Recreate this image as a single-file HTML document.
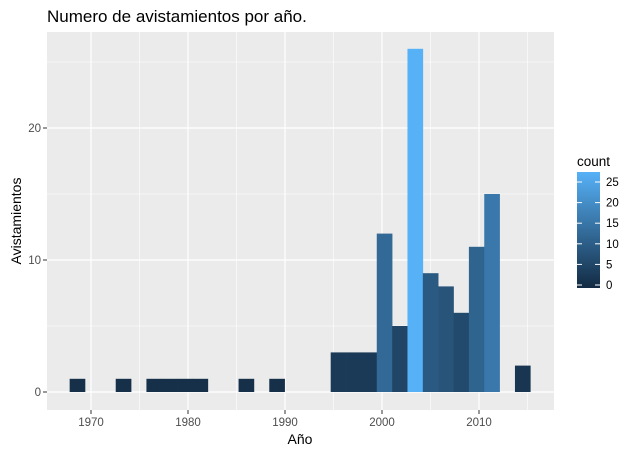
<!DOCTYPE html>
<html><head><meta charset="utf-8"><style>
body{margin:0;background:#fff;}
svg text{font-family:"Liberation Sans",Arial,sans-serif;}
</style></head><body>
<svg id="chart" width="635" height="452" xmlns="http://www.w3.org/2000/svg">
<text x="47" y="22" font-size="17" fill="#000">Numero de avistamientos por año.</text>
<rect x="47" y="32" width="507" height="378" fill="#EBEBEB"/>
<g id="grid"></g>
<g id="bars"></g>
<g id="axes"></g>
<text x="300" y="444" font-size="14" text-anchor="middle" fill="#000">Año</text>
<text transform="translate(21,221) rotate(-90)" font-size="14" text-anchor="middle" fill="#000">Avistamientos</text>
<g id="legend"></g>
</svg>
<script>
const binStart = 1967.8;
const binWidth = 1.583;
const counts = [1,0,0,1,0,1,1,1,1,0,0,1,0,1,0,0,0,3,3,3,12,5,26,9,8,6,11,15,0,2];
const xTicks = [1970,1980,1990,2000,2010];
const xMinor = [1965,1975,1985,1995,2005,2015];
const yTicks = [0,10,20];
const yMinor = [5,15,25];
const legendTicks = [0,5,10,15,20,25];

const NS="http://www.w3.org/2000/svg";
const L=47,R=554,T=32,B=410;
const xs = y => 91 + (y-1970)*9.7;
const ys = v => 392 - v*13.2;
const maxC = Math.max(...counts);
function col(v){const t=v/maxC;const a=[0x13,0x2B,0x43],b=[0x56,0xB1,0xF7];
 return 'rgb('+a.map((c,i)=>Math.round(c+(b[i]-c)*t)).join(',')+')';}
function mk(tag,attrs,parent){const e=document.createElementNS(NS,tag);for(const k in attrs)e.setAttribute(k,attrs[k]);parent.appendChild(e);return e;}
const grid=document.getElementById('grid'),bars=document.getElementById('bars'),axes=document.getElementById('axes'),lg=document.getElementById('legend');
xMinor.forEach(v=>{const x=xs(v);if(x<L||x>R)return;const e=mk('line',{x1:x,x2:x,y1:T,y2:B,stroke:'#fff','stroke-width':0.6},grid);

});
yMinor.forEach(v=>{const e=mk('line',{x1:L,x2:R,y1:ys(v),y2:ys(v),stroke:'#fff','stroke-width':0.6},grid);

});
xTicks.forEach(v=>{const x=xs(v);const e=mk('line',{x1:x,x2:x,y1:T,y2:B,stroke:'#fff','stroke-width':1.2},grid);


const t=mk('line',{x1:x,x2:x,y1:B,y2:B+4,stroke:'#333','stroke-width':1},axes);


const l=mk('text',{x:x,y:B+16,'font-size':11.5,'text-anchor':'middle',fill:'#4D4D4D'},axes);l.textContent=v;

});
yTicks.forEach(v=>{const y=ys(v);const e=mk('line',{x1:L,x2:R,y1:y,y2:y,stroke:'#fff','stroke-width':1.2},grid);


const t=mk('line',{x1:L-4,x2:L,y1:y,y2:y,stroke:'#333','stroke-width':1},axes);


const l=mk('text',{x:L-6,y:y+4,'font-size':11.5,'text-anchor':'end',fill:'#4D4D4D'},axes);l.textContent=v;

});
counts.forEach((c,i)=>{if(c<=0)return;const x0=xs(binStart+i*binWidth),x1=xs(binStart+(i+1)*binWidth);
const e=mk('rect',{x:x0,y:ys(c),width:x1-x0+0.3,height:ys(0)-ys(c),fill:col(c)},bars);

});
// legend
const lt=mk('text',{x:577,y:166,'font-size':13.5,fill:'#000'},lg);lt.textContent='count';


const defs=mk('defs',{},lg);const gr=mk('linearGradient',{id:'lgrad',x1:0,y1:1,x2:0,y2:0},defs);
mk('stop',{offset:0,'stop-color':col(0)},gr);mk('stop',{offset:1,'stop-color':col(maxC)},gr);
const lgTop=172,lgBot=288;const ly=v=>285-(v/25)*(285-182);
const bar=mk('rect',{x:577,y:lgTop,width:23,height:lgBot-lgTop,fill:'url(#lgrad)'},lg);


legendTicks.forEach(v=>{const y=ly(v);
mk('line',{x1:577,x2:582,y1:y,y2:y,stroke:'#fff','stroke-width':1},lg);
mk('line',{x1:595,x2:600,y1:y,y2:y,stroke:'#fff','stroke-width':1},lg);
const l=mk('text',{x:606,y:y+4,'font-size':11.5,fill:'#000'},lg);l.textContent=v;

});
</script>
</body></html>
